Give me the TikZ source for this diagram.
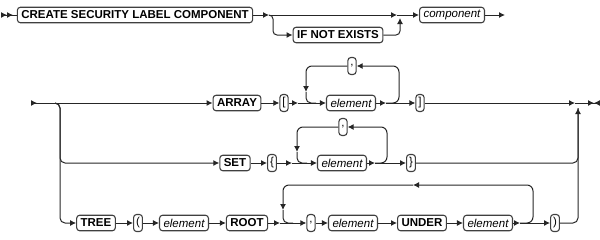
\documentclass[tikz,border=0pt]{standalone}
\usepackage{fontspec}
\setmainfont{Liberation Sans}
\usetikzlibrary{arrows.meta}
\definecolor{ink}{HTML}{262626}
\definecolor{rim}{HTML}{404040}

\begin{document}
\begin{tikzpicture}[x=1pt,y=1pt,>={Latex[length=6pt,width=6pt]},
  kw/.style={draw=rim,rounded corners=3pt,fill=white,line width=1.1pt,font=\fontsize{11.5}{12}\selectfont\bfseries,minimum height=15.5pt,inner xsep=4pt,inner ysep=0pt},
  var/.style={kw,font=\fontsize{11.5}{12}\selectfont\itshape},
  sym/.style={kw,font=\fontsize{11.5}{12}\selectfont,inner xsep=2.5pt,minimum height=17pt},
  rr/.style={draw=ink,line width=1pt,->},
  bare/.style={draw=ink,line width=1pt,rounded corners=5pt}]
\useasboundingbox (0,0) rectangle (600,-239);
% first line
\coordinate (go1) at (1,-15);
\node[kw] (create) at (135,-15) {CREATE SECURITY LABEL COMPONENT};
\coordinate (s1) at (269,-15);
\node[kw] (ifne) at (338,-35) {IF NOT EXISTS};
\coordinate (m1) at (397,-15);
\coordinate (m1up) at (400,-18);
\node[var] (comp) at (452,-15) {component};
\coordinate (out1) at (505,-15);
\draw[rr,{Latex[length=6pt,width=6pt,reversed]Latex[length=6pt,width=6pt,reversed]}-] (go1) -- (create);
\draw[rr] (create) -- (s1);
\draw[rr] (s1) -- (m1);
\draw[rr,rounded corners=4pt] (s1) -- ++(4,0) |- (ifne);
\draw[rr,rounded corners=4pt] (ifne) -| (m1up);
\draw[rr] (m1) -- (comp);
\draw[rr] (comp) -- (out1);
% second line: ARRAY / SET / TREE
\coordinate (go2) at (31,-103);
\coordinate (b2) at (55,-103);
\node[kw] (array) at (237,-103) {ARRAY};
\node[sym] (lbrk) at (284,-103) {[};
\coordinate (inA) at (298,-103);
\node[var] (elA) at (351,-103) {element};
\coordinate (outA) at (386,-103);
\node[sym] (rbrk) at (420,-103) {]};
\node[sym] (comA) at (352,-66) {,};
\coordinate (dnA) at (306,-92);
\coordinate (end2) at (575,-103);
\coordinate (up2) at (578,-108);
\coordinate (fin) at (600,-103);
\draw[rr,{Latex[length=6pt,width=6pt,reversed]}-] (go2) -- (b2);
\draw[rr] (b2) -- (array);
\draw[rr] (array) -- (lbrk);
\draw[rr] (lbrk) -- (inA);
\draw[rr] (inA) -- (elA);
\draw[rr] (elA) -- (outA);
\draw[rr] (outA) -- (rbrk);
\draw[rr,rounded corners=6pt] (outA) -- (399,-103) -- (399,-66) -- (comA);
\draw[rr,rounded corners=6pt] (comA) -| (dnA);
\draw[bare] (dnA) |- (316,-103);
\draw[rr] (rbrk) -- (end2);
\draw[draw=ink,line width=1pt,-{Latex[length=6pt,width=6pt]Latex[length=6pt,width=6pt,reversed]}] (end2) -- (fin);
% SET
\node[kw] (set) at (235,-163) {SET};
\node[sym] (lbrace) at (272,-163) {\{};
\coordinate (inS) at (292,-163);
\node[var] (elS) at (342,-163) {element};
\coordinate (outS) at (375,-163);
\node[sym] (rbrace) at (411,-163) {\}};
\node[sym] (comS) at (343,-127) {,};
\coordinate (dnS) at (297,-152);
\draw[rr,rounded corners=5pt] (b2) -- (60,-103) -- (60,-163) -- (set);
\draw[rr] (set) -- (lbrace);
\draw[rr] (lbrace) -- (inS);
\draw[rr] (inS) -- (elS);
\draw[rr] (elS) -- (outS);
\draw[rr] (outS) -- (rbrace);
\draw[rr,rounded corners=6pt] (outS) -- (387,-163) -- (387,-127) -- (comS);
\draw[rr,rounded corners=6pt] (comS) -| (dnS);
\draw[bare] (dnS) |- (307,-163);
\draw[bare] (rbrace) -| (up2);
% TREE
\node[kw] (tree) at (96,-223) {TREE};
\node[sym] (lpar) at (138,-223) {(};
\node[var] (elT) at (184,-223) {element};
\node[kw] (root) at (247,-223) {ROOT};
\coordinate (inT) at (280,-223);
\node[sym] (comT) at (311,-223) {,};
\node[var] (elU) at (353,-223) {element};
\node[kw] (under) at (422,-223) {UNDER};
\node[var] (elV) at (488,-223) {element};
\coordinate (outT) at (520,-223);
\node[sym] (rpar) at (555,-223) {)};
\coordinate (backT) at (413,-185);
\coordinate (dnT) at (283,-210);
\draw[rr,rounded corners=5pt] (b2) -- (60,-103) -- (60,-223) -- (tree);
\draw[rr] (tree) -- (lpar);
\draw[rr] (lpar) -- (elT);
\draw[rr] (elT) -- (root);
\draw[rr] (root) -- (inT);
\draw[rr] (inT) -- (comT);
\draw[rr] (comT) -- (elU);
\draw[rr] (elU) -- (under);
\draw[rr] (under) -- (elV);
\draw[rr] (elV) -- (outT);
\draw[rr] (outT) -- (rpar);
\draw[rr,rounded corners=6pt] (outT) -- (533,-223) -- (533,-185) -- (backT);
\draw[rr,rounded corners=6pt] (backT) -| (dnT);
\draw[bare] (dnT) |- (293,-223);
\draw[rr,rounded corners=5pt] (rpar) -| (up2);
\end{tikzpicture}
\end{document}
